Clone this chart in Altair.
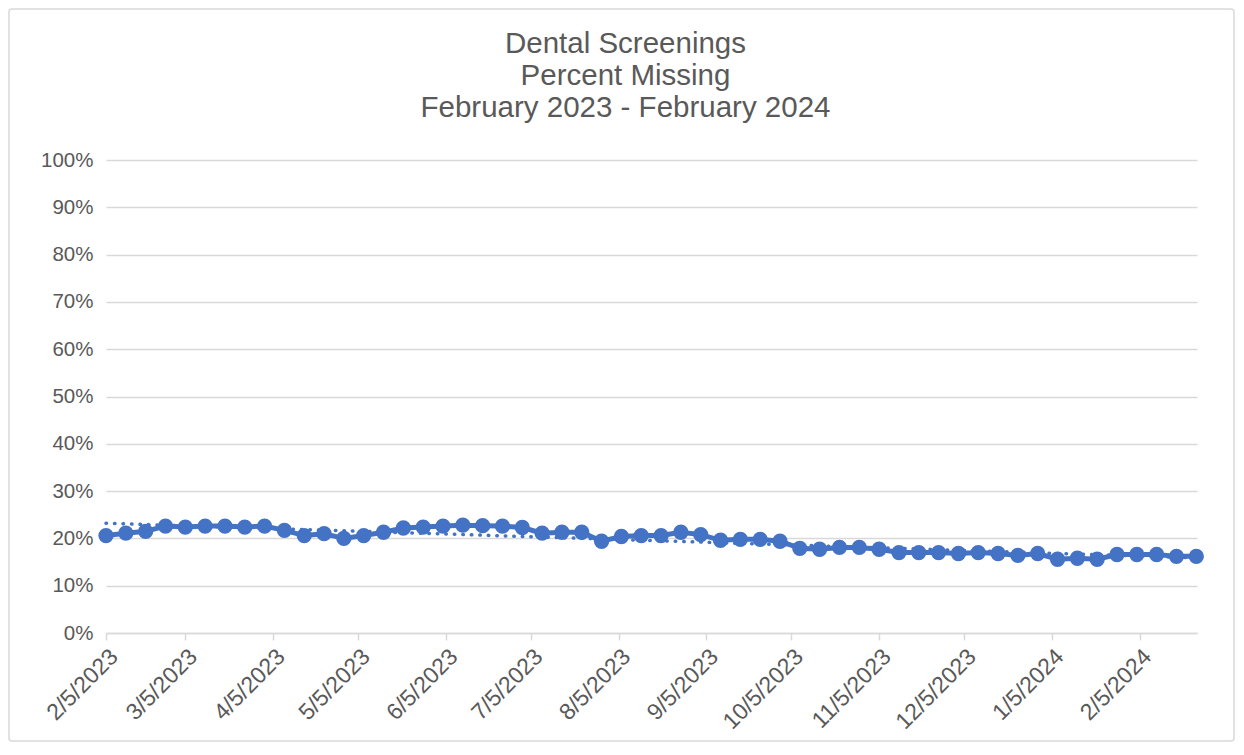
import altair as alt
import pandas as pd

# Weekly dates (first point 2/5/2023, 56 weekly points)
start_date = "2023-02-05"
n_points = 56
pct_missing = [
    20.6, 21.1, 21.5, 22.6, 22.4, 22.6, 22.6, 22.4, 22.6, 21.7,
    20.6, 21.0, 20.0, 20.6, 21.3, 22.2, 22.4, 22.6, 22.8, 22.7,
    22.6, 22.3, 21.1, 21.3, 21.3, 19.4, 20.4, 20.6, 20.6, 21.3,
    20.8, 19.6, 19.8, 19.8, 19.4, 17.9, 17.7, 18.1, 18.1, 17.7,
    17.0, 17.0, 17.0, 16.8, 17.0, 16.8, 16.4, 16.8, 15.6, 15.8,
    15.6, 16.6, 16.6, 16.6, 16.2, 16.2,
]
# Trendline (dotted) endpoints
trend_dates = ["2023-02-05", "2024-02-25"]
trend_values = [23.2, 15.9]

# Axis tick positions
tick_months = [(2023, m) for m in range(2, 13)] + [(2024, 1), (2024, 2)]
y_ticks = list(range(0, 101, 10))

dates = pd.date_range(start_date, periods=n_points, freq="7D")
df = pd.DataFrame({"date": dates.strftime("%Y-%m-%d"), "pct": pct_missing})
trend_df = pd.DataFrame({"date": trend_dates, "pct": trend_values})

BLUE = "#4472C4"
GRAY = "#595959"
GRID = "#D9D9D9"
FONT = "Liberation Sans"

x_scale = alt.Scale(type="utc", domain=[alt.DateTime(year=2023, month=2, date=5, utc=True),
                                        alt.DateTime(year=2024, month=2, date=25, hours=6, utc=True)])
y_scale = alt.Scale(domain=[0, 100], nice=False)

x_axis = alt.Axis(
    values=[alt.DateTime(year=y, month=m, date=5, utc=True) for y, m in tick_months],
    format="%-m/%-d/%Y", labelOverlap=False,
    labelAngle=-45, labelFontSize=23, labelColor=GRAY, labelFont=FONT,
    domainColor=GRID, domainWidth=1.5, tickColor=GRID, tickSize=7, tickWidth=1.5,
    grid=False, title=None, labelPadding=5,
)
y_axis = alt.Axis(
    values=y_ticks, labelExpr="datum.value + '%'",
    labelFontSize=20.5, labelColor=GRAY, labelFont=FONT,
    domain=False, ticks=False, gridColor=GRID, gridWidth=1.5,
    title=None, labelPadding=13,
)

base = alt.Chart(df).encode(
    x=alt.X("date:T", scale=x_scale, axis=x_axis),
    y=alt.Y("pct:Q", scale=y_scale, axis=y_axis),
)

line = base.mark_line(color=BLUE, strokeWidth=5)
points = base.mark_circle(color=BLUE, size=235, opacity=1)

trend = alt.Chart(trend_df).mark_line(
    color=BLUE, strokeWidth=3.5, strokeDash=[0.5, 8], strokeCap="round"
).encode(
    x=alt.X("date:T", scale=x_scale),
    y=alt.Y("pct:Q", scale=y_scale),
)

border = alt.Chart(pd.DataFrame({"a": [0]})).mark_rect(
    fill=None, stroke=GRID, strokeWidth=1.5, cornerRadius=3
).encode(
    x=alt.value(-97), x2=alt.value(1128), y=alt.value(-151), y2=alt.value(581)
)

chart = alt.layer(border, trend, line, points).properties(
    width=1091, height=473,
    padding={"left": 98, "top": 152, "right": 38, "bottom": 109},
    autosize=alt.AutoSizeParams(type="none"),
    background="white",
    title=alt.TitleParams(
        ["Dental Screenings", "Percent Missing", "February 2023 - February 2024"],
        fontSize=29.5, font=FONT, color=GRAY, fontWeight="normal",
        lineHeight=32, anchor="middle", offset=-115, dx=-26,
    ),
).configure_view(strokeWidth=0, stroke="transparent")

chart.save("out.html", embed_options={"renderer": "svg", "actions": False})
